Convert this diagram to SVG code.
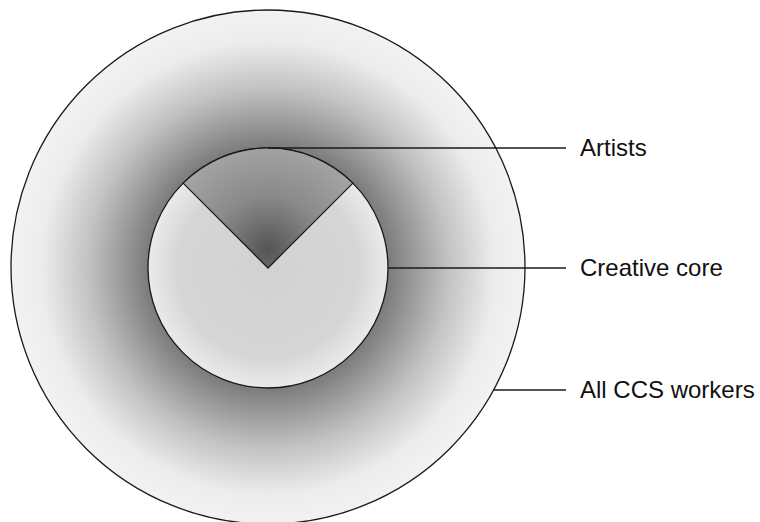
<svg xmlns="http://www.w3.org/2000/svg" width="760" height="522" viewBox="0 0 760 522">
<style>
.ol{stroke:#1a1a1a;stroke-width:1.3;}
.lbl{font-family:"Liberation Sans",Arial,sans-serif;font-size:24px;fill:#111;}
.ln{stroke:#1a1a1a;stroke-width:1.3;fill:none;}
</style>
<defs>
<radialGradient id="gOuter" gradientUnits="userSpaceOnUse" cx="268" cy="268" r="257">
<stop offset="0" stop-color="#4a4a4a"/>
<stop offset="0.45" stop-color="#767676"/>
<stop offset="0.7" stop-color="#c2c2c2"/>
<stop offset="0.88" stop-color="#ececec"/>
<stop offset="1" stop-color="#f2f2f2"/>
</radialGradient>
<radialGradient id="gInner" gradientUnits="userSpaceOnUse" cx="268" cy="268" r="120">
<stop offset="0" stop-color="#d2d2d2"/>
<stop offset="0.75" stop-color="#d6d6d6"/>
<stop offset="1" stop-color="#eaeaea"/>
</radialGradient>
<radialGradient id="gWedge" gradientUnits="userSpaceOnUse" cx="268" cy="250" r="110">
<stop offset="0" stop-color="#555555"/>
<stop offset="0.5" stop-color="#8a8a8a"/>
<stop offset="1" stop-color="#a6a6a6"/>
</radialGradient>
</defs>
<rect width="760" height="522" fill="#ffffff"/>
<g id="all-ccs-workers">
<circle class="ol" cx="268" cy="267" r="257" fill="url(#gOuter)"/>
</g>
<g id="creative-core">
<circle class="ol" cx="268" cy="268" r="120" fill="url(#gInner)"/>
</g>
<g id="artists">
<path class="ol" d="M268,268 L183.1,183.1 A120,120 0 0 1 352.9,183.1 Z" fill="url(#gWedge)"/>
</g>
<g id="connectors">
<line class="ln" x1="268" y1="148" x2="566" y2="148"/>
<line class="ln" x1="388" y1="268" x2="566" y2="268"/>
<line class="ln" x1="494" y1="390" x2="566" y2="390"/>
</g>
<g id="labels">
<text class="lbl" x="580" y="156">Artists</text>
<text class="lbl" x="580" y="276">Creative core</text>
<text class="lbl" x="580" y="398">All CCS workers</text>
</g>
</svg>
